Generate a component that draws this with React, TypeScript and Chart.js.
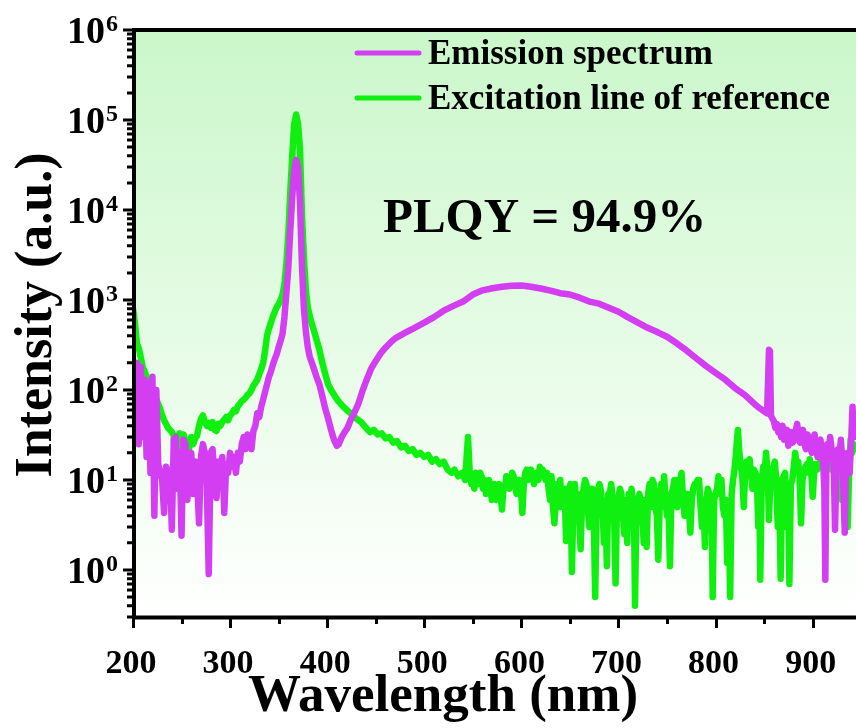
import { useEffect, useRef } from 'react';
import { Chart, registerables } from 'chart.js';

Chart.register(...registerables);

// [wavelength (nm), intensity (a.u.)]
const emissionSpectrum: [number, number][] = [
  [200,160],[202,40],[204,200],[206,25],[208,180],[210,30],[212,130],[214,18],[216,120],[218,12],
  [220,140],[222,4],[224,100],[226,15],[228,12],[230,10],[232,4.3],[234,14],[236,9],[238,13],
  [240,2.8],[242,28],[244,30],[246,8],[248,20],[250,2.4],[252,28],[254,25],[256,6],[258,14],
  [260,20],[262,7],[264,16],[266,10],[268,3.3],[270,18],[272,25],[274,20],[276,9],[278,0.9],
  [280,20],[282,22],[284,10],[286,6.3],[288,16],[290,12],[292,18],[294,4.3],[296,15],[298,12],
  [300,20],[302,14],[304,18],[306,12],[308,20],[310,16],[312,25],[314,30],[316,22],[318,32],
  [320,28],[322,22],[324,35],[326,40],[328,55],[330,50],[332,65],[334,78],[336,95],[338,115],
  [340,140],[342,160],[344,190],[346,220],[348,250],[350,300],[352,350],[354,420],[356,650],[358,1200],
  [360,2300],[362,6000],[364,14000],[366,28000],[368,36000],[370,30000],[372,12000],[374,2400],[376,800],[378,450],
  [380,300],[382,234],[385,190],[389,140],[392,115],[395,85],[398,62],[401,48],[404,36],[407,28],
  [410,24],[412,25],[415,30],[418,34],[421,38],[424,46],[428,56],[432,70],[436,95],[440,125],
  [445,170],[450,210],[455,255],[460,295],[465,335],[470,375],[480,430],[490,490],[500,560],[510,645],
  [520,760],[530,860],[540,960],[550,1150],[560,1280],[570,1350],[580,1400],[590,1440],[600,1450],[610,1400],
  [620,1340],[630,1270],[640,1190],[650,1150],[660,1060],[670,960],[680,910],[690,820],[700,740],[710,640],
  [720,560],[730,490],[740,440],[750,390],[760,330],[770,275],[780,225],[790,185],[800,155],[810,130],
  [820,105],[830,88],[840,70],[846,62],[850,58],[853,55],[855,280],[856,270],[857,52],[858.5,48],
  [860,45],[861.5,38],[863,42],[864.5,34],[866,36],[867.5,30],[869,40],[870.5,28],[872,32],[873.5,36],
  [875,24],[876.5,30],[878,34],[879.5,26],[881,28],[882.5,35],[884,42],[885.5,30],[887,26],[888.5,33],
  [890,36],[891.5,25],[893,22],[894.5,32],[896,30],[897.5,24],[899,20],[900.5,28],[902,32],[903.5,22],
  [905,18],[906.5,27],[908,28],[909.5,20],[911,14],[912,8],[913,0.78],[914,12],[915,25],[916.5,20],
  [918,30],[919.5,22],[921,20],[922,10],[923,2.8],[924.5,15],[926,22],[927.5,18],[929,28],[930,20],
  [931,14],[932,6],[933,2.6],[934.5,14],[936,20],[937,16],[938,12],[939.5,25],[941,65],[942.5,30],
  [944,40],
];

const excitationReference: [number, number][] = [
  [200,800],[202,560],[204,330],[206,290],[208,230],[210,180],[212,160],[214,140],[216,115],[218,105],
  [220,95],[222,88],[224,78],[226,70],[228,62],[230,52],[232,46],[234,42],[236,38],[238,36],
  [240,34],[242,31],[244,8],[246,30],[248,33],[250,28],[252,32],[254,26],[256,7.5],[258,27],
  [260,30],[262,25],[264,29],[266,31],[268,40],[270,48],[272,52],[274,44],[276,40],[278,43],
  [280,38],[282,44],[284,36],[286,35],[288,42],[290,40],[292,44],[294,47],[296,50],[298,46],
  [300,52],[302,55],[304,60],[306,58],[308,66],[310,70],[312,75],[314,78],[316,82],[318,88],
  [320,92],[322,100],[324,112],[326,120],[328,130],[330,150],[332,170],[334,200],[336,270],[338,400],
  [340,480],[342,560],[344,650],[346,740],[348,830],[350,900],[352,1000],[354,1150],[356,1500],[358,2600],
  [360,5500],[362,16000],[364,40000],[366,90000],[368,115000],[370,90000],[372,47000],[374,9000],[376,3000],[378,1300],
  [380,830],[383,600],[386,470],[389,363],[392,280],[395,200],[398,150],[401,115],[404,100],[408,85],
  [412,74],[416,66],[420,60],[425,54],[430,48],[435,44],[440,38],[444,34],[448,36],[452,32],
  [456,33],[460,29],[464,30],[468,26],[472,27],[476,23],[480,24],[484,21],[488,22],[492,19],
  [496,20],[500,18],[504,19],[508,16],[512,17],[516,15],[520,16],[524,13],[528,12],[531,13],
  [535,11],[539,12],[542,10],[545,30],[547,11],[548.5,9],[550,10],[551.5,8],[553,12],[554.5,10],
  [556,9],[557.5,12],[559,11],[560.5,8],[562,10],[563.5,7],[565,8],[566.5,10],[568,9],[569.5,6],
  [571,8],[572.5,9],[574,6],[575.5,8],[577,9],[578.5,7],[580,4.7],[581.5,8],[583,8],[584.5,11],
  [586,10],[587.5,8],[589,9],[590.5,12],[592,11],[593.5,9],[595,7],[596.5,9],[598,10],[599.5,8],
  [601,4.3],[602.5,9],[604,12],[605.5,13],[607,10],[608.5,12],[610,13],[611.5,11],[613,9],[614.5,11],
  [616,12],[617.5,10],[619,14],[620.5,12],[622,13],[623.5,11],[625,10],[626.5,12],[628,8],[629.5,6],
  [631,11],[632.5,5],[634,3.3],[635.5,6],[637,9],[638.5,5],[640,10],[641.5,5],[643,6],[644.5,8],
  [646,2.1],[647.5,5],[649,8],[650.5,9],[652,0.95],[653.5,5],[655,9],[656.5,6],[658,7],[659.5,4],
  [661,1.7],[662.5,6],[664,8],[665.5,10],[667,9],[668.5,4.5],[670,3],[671.5,8],[673,8],[674.5,4],
  [676,0.5],[677.5,6],[679,8],[680.5,9],[682,7.5],[683.5,5],[685,2],[686.5,5],[688,1.1],[689.5,7],
  [691,7],[692.5,9],[694,6],[695.5,4],[697,0.71],[698.5,6],[700,6.5],[701.5,8],[703,7],[704.5,4],
  [706,2.5],[707.5,6],[709,2],[710.5,7],[712,6],[713.5,8],[715,5],[716,4],[717,0.4],[718.5,5],
  [720,6],[721.5,7],[723,6],[724.5,4],[726,2],[727.5,6],[729,1.8],[730.5,7],[732,9],[733.5,5],
  [735,10],[736.5,9],[738,5],[739.5,4],[741,1.3],[742.5,6],[744,9],[745.5,5],[747,11],[748.5,6],
  [750,4],[751.5,5],[753,1.1],[754.5,7],[756,8],[757.5,10],[759,10],[760.5,5],[762,9],[763.5,10],
  [765,12],[766.5,6],[768,4],[769.5,7],[771,7],[772.5,5],[774,2.6],[775.5,6],[777,8],[778.5,9],
  [780,9],[781.5,10],[783,10],[784.5,5],[786,3],[787.5,6],[789,1.8],[790.5,6],[792,8],[793.5,7],
  [795,5],[796,4],[797,0.5],[798.5,6],[800,7],[801.5,8],[803,11],[804.5,7],[806,10],[807.5,5],
  [809,4],[810.5,6],[812,1.2],[813.5,4],[815,0.5],[816.5,7],[818,10],[819.5,13],[821,20],[822,28],
  [823,36],[824.5,20],[826,14],[827.5,11],[829,5],[830.5,12],[832,16],[833.5,13],[835,17],[836.5,12],
  [838,8],[839.5,13],[841,12],[842.5,10],[844,3],[845,8],[846,0.78],[847.5,10],[849,14],[850.5,12],
  [852,20],[853.5,12],[855,3.6],[856.5,11],[858,12],[859.5,14],[861,16],[862.5,10],[864,3],[865.5,9],
  [867,0.8],[868.5,10],[870,11],[871.5,12],[873,3],[874.5,9],[876,0.7],[877.5,9],[879,10],[880.5,14],
  [882,20],[883.5,15],[885,16],[886.5,11],[888,3.3],[889.5,10],[891,12],[892.5,14],[894,15],[895.5,12],
  [897,17],[898.5,12],[900,6.5],[901.5,12],[903,15],[904.5,13],[906,14],[907.5,16],[909,18],[910.5,14],
  [912,15],[913.5,17],[915,20],[916.5,15],[918,16],[919.5,13],[921,18],[922.5,14],[924,12],[925.5,16],
  [927,20],[928.5,14],[930,6],[931.5,12],[933,10],[934.5,8],[936,3],[937.5,12],[939,28],[940.5,20],
  [942,25],[944,22],
];

const seriesLabels = ['Emission spectrum', 'Excitation line of reference'];
const seriesColors = ['#d43ef2', '#10f010'];
const xMajorTicks = [200, 300, 400, 500, 600, 700, 800, 900];
const xMinorTicks = [250, 350, 450, 550, 650, 750, 850];
const yDecadeExponents = [0, 1, 2, 3, 4, 5, 6];
const xRange = [200, 944.6];
const yRange = [0.3, 1e6];
const xTitle = 'Wavelength (nm)';
const yTitle = 'Intensity (a.u.)';
const plqyText = 'PLQY = 94.9%';

const SERIF = '"Times New Roman", "Liberation Serif", serif';

const framePlugin = {
  id: 'frame',
  beforeDraw(chart: any) {
    const { ctx, chartArea: a, width, height } = chart;
    ctx.save();
    ctx.fillStyle = '#ffffff';
    ctx.fillRect(0, 0, width, height);
    const g = ctx.createLinearGradient(0, a.top, 0, a.bottom);
    g.addColorStop(0, 'rgb(202,247,202)');
    g.addColorStop(1, 'rgb(255,255,255)');
    ctx.fillStyle = g;
    ctx.fillRect(a.left, a.top, a.right - a.left, a.bottom - a.top);
    ctx.restore();
  },
  afterDatasetsDraw(chart: any) {
    const { ctx, chartArea: a } = chart;
    const xs = chart.scales.x;
    const ys = chart.scales.y;
    ctx.save();

    // axis frame: left, bottom, top
    ctx.strokeStyle = '#000';
    ctx.lineWidth = 4;
    ctx.lineCap = 'butt';
    ctx.beginPath();
    ctx.moveTo(a.left + 1, a.top - 2);
    ctx.lineTo(a.left + 1, a.bottom + 2);
    ctx.moveTo(a.left - 1, a.bottom + 0.5);
    ctx.lineTo(a.right, a.bottom + 0.5);
    ctx.moveTo(a.left - 1, a.top);
    ctx.lineTo(a.right, a.top);
    ctx.stroke();

    // tick marks
    ctx.lineWidth = 3;
    ctx.beginPath();
    for (const v of xMajorTicks) {
      const px = Math.round(xs.getPixelForValue(v)) + 0.5;
      ctx.moveTo(px, a.bottom + 2);
      ctx.lineTo(px, a.bottom + 11);
    }
    for (const v of xMinorTicks) {
      const px = Math.round(xs.getPixelForValue(v)) + 0.5;
      ctx.moveTo(px, a.bottom + 2);
      ctx.lineTo(px, a.bottom + 7);
    }
    for (const e of yDecadeExponents) {
      const py = ys.getPixelForValue(Math.pow(10, e));
      ctx.moveTo(a.left - 1, py);
      ctx.lineTo(a.left - 10, py);
    }
    for (let e = -1; e <= 5; e++) {
      for (let k = 2; k <= 9; k++) {
        const v = k * Math.pow(10, e);
        if (v < yRange[0] || v > yRange[1]) continue;
        const py = ys.getPixelForValue(v);
        ctx.moveTo(a.left - 1, py);
        ctx.lineTo(a.left - 6, py);
      }
    }
    ctx.stroke();

    // tick labels
    ctx.fillStyle = '#000';
    ctx.textBaseline = 'alphabetic';
    ctx.font = `bold 34px ${SERIF}`;
    ctx.textAlign = 'center';
    for (const v of xMajorTicks) {
      ctx.fillText(String(v), xs.getPixelForValue(v) - 2, 673);
    }
    for (const e of yDecadeExponents) {
      const py = ys.getPixelForValue(Math.pow(10, e));
      ctx.font = `bold 38px ${SERIF}`;
      ctx.textAlign = 'right';
      ctx.fillText('10', 105, py + 13);
      ctx.font = `bold 24px ${SERIF}`;
      ctx.textAlign = 'left';
      ctx.fillText(String(e), 106, py + 1);
    }

    // axis titles
    ctx.font = `bold 53px ${SERIF}`;
    ctx.textAlign = 'center';
    ctx.fillText(xTitle, 443, 711);
    ctx.save();
    ctx.translate(51, 315);
    ctx.rotate(-Math.PI / 2);
    ctx.font = `bold 52px ${SERIF}`;
    ctx.fillText(yTitle, 0, 0);
    ctx.restore();

    // legend
    const rows = [53, 98];
    chart.data.datasets.forEach((ds: any, i: number) => {
      ctx.strokeStyle = ds.borderColor;
      ctx.lineWidth = 5;
      ctx.lineCap = 'round';
      ctx.beginPath();
      ctx.moveTo(357, rows[i]);
      ctx.lineTo(419, rows[i]);
      ctx.stroke();
      ctx.fillStyle = '#000';
      ctx.font = `bold 35px ${SERIF}`;
      ctx.textAlign = 'left';
      ctx.fillText(ds.label, 428, rows[i] + 11);
    });

    // quantum yield annotation
    ctx.font = `bold 49px ${SERIF}`;
    ctx.textAlign = 'left';
    ctx.fillText(plqyText, 383, 232);

    ctx.restore();
  },
};

export default function App() {
  const canvasRef = useRef<HTMLCanvasElement | null>(null);

  useEffect(() => {
    const canvas = canvasRef.current;
    if (!canvas) return;
    const toPoints = (s: [number, number][]) => s.map(([x, y]) => ({ x, y }));
    const lineStyle = {
      borderWidth: 6.5,
      pointRadius: 0,
      tension: 0,
      borderJoinStyle: 'round',
      borderCapStyle: 'round',
    };
    const chart = new Chart(canvas, {
      type: 'line',
      data: {
        datasets: [
          { label: seriesLabels[0], data: toPoints(emissionSpectrum), borderColor: seriesColors[0], ...lineStyle },
          { label: seriesLabels[1], data: toPoints(excitationReference), borderColor: seriesColors[1], ...lineStyle },
        ],
      },
      options: {
        animation: false,
        responsive: false,
        devicePixelRatio: 1,
        layout: { padding: { top: 30, left: 0, right: 0, bottom: 0 } },
        plugins: {
          legend: { display: false },
          tooltip: { enabled: false },
        },
        scales: {
          x: {
            type: 'linear',
            min: xRange[0],
            max: xRange[1],
            grid: { display: false },
            border: { display: false },
            ticks: { display: false, includeBounds: false },
            afterFit: (s: any) => { s.height = 111; },
          },
          y: {
            type: 'logarithmic',
            min: yRange[0],
            max: yRange[1],
            grid: { display: false },
            border: { display: false },
            ticks: { display: false },
            afterFit: (s: any) => { s.width = 133; },
          },
        },
      },
      plugins: [framePlugin],
    } as any);
    return () => chart.destroy();
  }, []);

  return (
    <div style={{ position: 'fixed', left: 0, top: 0, width: 856, height: 728, background: '#fff' }}>
      <canvas ref={canvasRef} width={856} height={728} style={{ display: 'block' }} />
    </div>
  );
}
